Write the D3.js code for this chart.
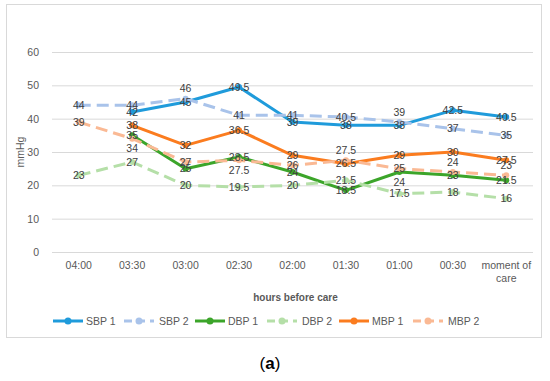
<!DOCTYPE html>
<html lang="en">
<head>
<meta charset="UTF-8">
<title>Blood pressure before care</title>
<style>
	body { margin: 0; background: #fff; }
	svg text { font-family: "Liberation Sans", Arial, sans-serif; }
	.tick text { fill: #595959; font-size: 10.5px; }
	.dlabel { fill: #404040; font-size: 10.5px; text-anchor: middle; }
	.leg text { fill: #595959; font-size: 10.5px; }
</style>
</head>
<body>
<svg id="chart" width="550" height="381"></svg>
<script src="https://d3js.org/d3.v7.min.js"></script>
<script>
	var categories = ["04:00", "03:30", "03:00", "02:30", "02:00", "01:30", "01:00", "00:30", "moment of care"];
	var yTicks = [0, 10, 20, 30, 40, 50, 60];

	var sbp1 = [null, 42, 45, 49.5, 39, 38, 38, 42.5, 40.5];
	var sbp2 = [44, 44, 46, 41, 41, 40.5, 39, 37, 35];
	var dbp1 = [null, 35, 25, 28.5, 24, 18.5, 24, 23, 21.5];
	var dbp2 = [23, 27, 20, 19.5, 20, 21.5, 17.5, 18, 16];
	var mbp1 = [null, 38, 32, 36.5, 29, 26.5, 29, 30, 27.5];
	var mbp2 = [39, 34, 27, 27.5, 26, 27.5, 25, 24, 23];

	// label placement per point: 0 centre, -1 above, 1 below
	var series = [
		{ name: "SBP 1", values: sbp1, color: "#1f9bdb", dash: null, pos: [] },
		{ name: "SBP 2", values: sbp2, color: "#a9c3ea", dash: "12,6", pos: [0, 0, -1, 0, 0, 0, -1, 0, 0] },
		{ name: "DBP 1", values: dbp1, color: "#3ca52a", dash: null, pos: [0, 0, 0, 0, 0, 0, 1, 0, 0] },
		{ name: "DBP 2", values: dbp2, color: "#b5dfa8", dash: "12,6", pos: [] },
		{ name: "MBP 1", values: mbp1, color: "#fb7c1f", dash: null, pos: [] },
		{ name: "MBP 2", values: mbp2, color: "#fab994", dash: "12,6", pos: [0, 1, 0, 1, 0, -1, 0, -1, -1] }
	];

	var svg = d3.select("#chart");

	// outer chart border
	svg.append("rect")
		.attr("x", 6.5).attr("y", 4.5)
		.attr("width", 535).attr("height", 333)
		.attr("fill", "none").attr("stroke", "#d9d9d9");

	var plotL = 52, plotR = 533, plotT = 52, plotB = 252;

	var x = d3.scaleBand().domain(categories).range([plotL, plotR]);
	var y = d3.scaleLinear().domain([0, 60]).range([plotB, plotT]);
	var cx = function(i) { return x(categories[i]) + x.bandwidth() / 2; };

	// gridlines + y labels
	var yAxis = svg.append("g")
		.attr("transform", "translate(" + plotL + ",0)")
		.call(d3.axisLeft(y).tickValues(yTicks).tickSize(-(plotR - plotL)).tickPadding(13));
	yAxis.select(".domain").remove();
	yAxis.selectAll(".tick line").attr("stroke", "#d9d9d9");

	var xAxis = svg.append("g")
		.attr("transform", "translate(0," + plotB + ")")
		.call(d3.axisBottom(x).tickSize(0).tickPadding(10));
	xAxis.select(".domain").remove();
	xAxis.selectAll(".tick text").each(function(d) {
		if (d === "moment of care") {
			var t = d3.select(this).text(null);
			t.append("tspan").attr("x", 0).text("moment of");
			t.append("tspan").attr("x", 0).attr("dy", "1.2em").text("care");
		}
	});

	svg.append("text")
		.attr("x", (plotL + plotR) / 2 + 3).attr("y", 301)
		.attr("text-anchor", "middle")
		.attr("fill", "#595959").attr("font-size", 10).attr("font-weight", "bold")
		.text("hours before care");

	svg.append("text")
		.attr("transform", "translate(24," + ((plotT + plotB) / 2) + ") rotate(-90)")
		.attr("text-anchor", "middle")
		.attr("fill", "#595959").attr("font-size", 10.5)
		.text("mmHg");

	var line = d3.line()
		.defined(function(d) { return d != null; })
		.x(function(d, i) { return cx(i); })
		.y(function(d) { return y(d); });

	series.forEach(function(s) {
		svg.append("path")
			.datum(s.values)
			.attr("d", line)
			.attr("fill", "none")
			.attr("stroke", s.color)
			.attr("stroke-width", 3)
			.attr("stroke-dasharray", s.dash)
			.attr("stroke-linejoin", "round");

		svg.append("g").selectAll("circle")
			.data(s.values.map(function(v, i) { return { v: v, i: i }; }).filter(function(d) { return d.v != null; }))
			.enter().append("circle")
			.attr("cx", function(d) { return cx(d.i); })
			.attr("cy", function(d) { return y(d.v); })
			.attr("r", 3)
			.attr("fill", s.color);
	});

	series.forEach(function(s) {
		svg.append("g").selectAll("text")
			.data(s.values.map(function(v, i) { return { v: v, i: i }; }).filter(function(d) { return d.v != null; }))
			.enter().append("text")
			.attr("class", "dlabel")
			.attr("x", function(d) { return cx(d.i); })
			.attr("y", function(d) { return y(d.v) + (s.pos[d.i] || 0) * 10; })
			.attr("dy", "0.35em")
			.text(function(d) { return d.v; });
	});

	// legend
	var legX = [53, 124, 195, 267, 339, 413];
	var leg = svg.append("g").attr("class", "leg");
	series.forEach(function(s, i) {
		var g = leg.append("g").attr("transform", "translate(" + legX[i] + ",321)");
		g.append("line")
			.attr("x1", 0).attr("x2", 30)
			.attr("stroke", s.color).attr("stroke-width", 3)
			.attr("stroke-dasharray", s.dash ? "8,5" : null);
		g.append("circle").attr("cx", 15).attr("r", 3.5).attr("fill", s.color);
		g.append("text").attr("x", s.dash ? 35 : 33).attr("dy", "0.35em").text(s.name);
	});

	var cap = svg.append("text")
		.attr("x", 270).attr("y", 369)
		.attr("text-anchor", "middle")
		.attr("font-family", "'Liberation Serif', serif")
		.attr("font-size", 17)
		.attr("fill", "#000");
	cap.append("tspan").text("(");
	cap.append("tspan").attr("font-weight", "bold").text("a");
	cap.append("tspan").text(")");
</script>
</body>
</html>
